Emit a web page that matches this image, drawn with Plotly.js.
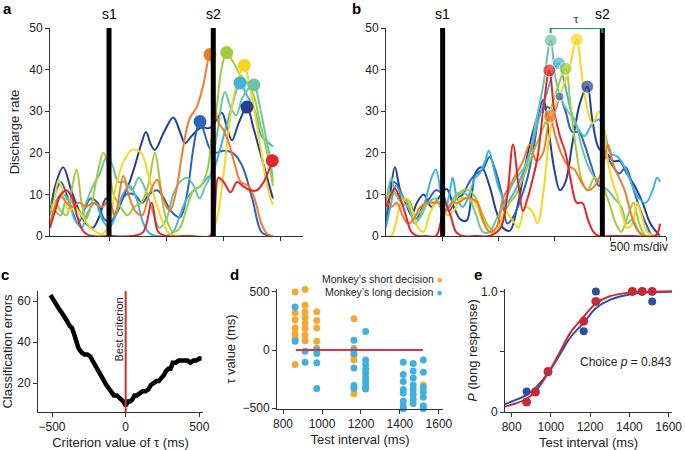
<!DOCTYPE html>
<html>
<head>
<meta charset="utf-8">
<script src="https://cdn.plot.ly/plotly-3.0.1.min.js"></script>
<style>
  body { margin: 0; background: white; }
  #myDiv { width: 685px; height: 450px; }
</style>
</head>
<body>
<div id="myDiv"></div>
<script>
// ---- panel a : discharge rate, short test interval (ms from s1) ----
var aNavyT = [-515,-470,-400,-330,-260,-200,-140,-80,-26,20,52,120,180,227,280,323,365,401,480,561,620,663,720,800,880,940,986,1030,1073,1130,1204,1260,1320,1380,1430];
var aNavyY = [5,12,16.5,11,6,3,2,5,9,7,5,9,13,17,22,25,22,20.7,25,28.5,25,22.3,24,26,26,28,29.6,26,23,27,31,26,20,14,9];
var aBlueT = [-515,-460,-420,-370,-320,-270,-220,-160,-100,-40,20,80,150,220,290,350,420,480,540,620,680,730,770,794,830,880,925,1000,1080,1160,1250,1330,1400,1430];
var aBlueY = [7,11,13,10,6,3,6,9,8,4,3.5,7,10,10,8,10,11,9,6,4.5,10,20,26,27.5,25,21,20,20.5,20,17,9,1,0,0];
var aCyanT = [-515,-470,-420,-360,-300,-240,-180,-120,-60,0,60,120,180,240,300,360,420,500,560,620,680,740,800,860,900,960,1020,1080,1143,1200,1274,1330,1390,1430];
var aCyanY = [5,8,10,9,4,2,6,8,4,2,5,10,12,9,3,0.5,0,0,1,5,9,11,12,14,15,20,26,32,36.8,34,30,24,22.5,21.5];
var aTealT = [-515,-470,-420,-370,-320,-260,-200,-140,-80,-20,30,80,140,200,260,320,380,440,500,560,620,680,740,790,840,880,940,1012,1060,1110,1160,1220,1265,1310,1360,1410,1430];
var aTealY = [8,6,5,9,8,4,8,12,15,19,17,13,13,11,14,11,6,2,4,10,13,14,12,9,12,14,24,34.6,31,29,33,35.5,36.3,32,25,18,13];
var aGreenT = [-515,-470,-420,-370,-320,-282,-240,-200,-150,-100,-49,0,40,100,160,220,280,340,401,440,490,560,620,680,740,800,860,900,940,980,1027,1080,1140,1200,1260,1320,1380,1430];
var aGreenY = [6,8,6,5,12,16,8,4,8,15,20,16,10,7,5,7,8,12,20,14,5,1,2,7,11,12,16,25,31,40,44.1,42,39,37,34,27,20,12];
var aYellowT = [-515,-480,-440,-400,-350,-300,-240,-160,-60,0,60,130,200,280,340,400,460,530,620,760,880,940,1000,1050,1100,1150,1181,1220,1270,1330,1380,1430];
var aYellowY = [2,8,13.5,10,6,7,5,2,0.5,3,12,18,20.7,20,15,9,4,0.5,0,0,0,4,15,27,35,39.5,41,37,30,20,12,7.5];
var aOrangeT = [-515,-470,-420,-370,-320,-260,-200,-140,-60,0,50,125,170,230,290,350,420,470,530,580,640,700,765,820,881,920,960,1000,1050,1100,1150,1220,1270,1330,1380,1430];
var aOrangeY = [3,7,9.5,8,7,8,7,8,7,8.5,5,14.5,10,6,5,10,13.5,9,6,10,20,28,31,36,43.6,32,27,25.5,22,17,13,12,9,3,0.5,0];
var aRedT = [-515,-470,-420,-369,-320,-270,-220,-150,0,200,300,372,430,500,700,880,920,955,1000,1060,1117,1170,1230,1290,1350,1425];
var aRedY = [2,6,10,11,9,4,1,0,0,0,1,8,1,0,0,0,5,14,13,10.5,13,12,11,11,13,18.1];
var aPeakT = [1204, 794, 1143, 1265, 1027, 1181, 881, 1425];
var aPeakY = [31, 27.5, 36.8, 36.3, 44.1, 41, 43.6, 18.1];
var aS2 = 910;

// ---- panel b : long test interval ----
var bNavyT = [-507,-470,-427,-380,-330,-280,-230,-170,-100,-40,36,100,160,215,260,300,350,420,480,540,603,660,720,780,840,901,950,1000,1050,1100,1160,1230,1295,1340,1400,1470,1530,1588,1650,1720,1790,1860,1946];
var bNavyY = [3,10,16.5,11,8,5,8,10,7,9,11.3,7,4,3.7,10,15.5,16.5,12,6,2,1.3,6,14,22,28,32.7,25,16,11,13,22,32,35.9,28,21,19.8,18,18,15,12,8,3,0];
var bBlueT = [-507,-460,-410,-360,-300,-240,-180,-120,-60,0,60,120,180,240,300,360,420,470,530,580,640,700,760,820,880,940,1000,1047,1100,1160,1220,1270,1330,1400,1460,1520,1580,1640,1700,1760,1820,1880,1946];
var bBlueY = [4,13,12.5,9,8.5,4,7,9,11,10,6,9,10,13,15,16,19,16,10,3,5,9,14,22,30,31,30,33.5,30,25,25,22,17,12,19,17,15,16.5,12,7,3,0,0];
var bCyanT = [-507,-460,-420,-370,-320,-270,-220,-160,-100,-60,-20,20,60,90,130,180,240,290,330,380,415,460,510,570,630,700,760,820,880,940,1000,1042,1090,1150,1210,1270,1340,1400,1450,1500,1570,1640,1700,1760,1820,1880,1920,1946];
var bCyanY = [2,8,12,10,8,5,4,8,14,16,11,6,10,14,9,7,10,14,15,18,20.5,16,11,8,10,14,18,24,30,35,40,41.5,37,30,26,24,27,28,25,20,19,16,12,9,8,11,14,13];
var bTealT = [-507,-460,-420,-370,-310,-250,-190,-130,-60,0,60,120,180,240,300,360,420,480,540,600,660,720,780,840,900,967,1010,1060,1120,1180,1240,1300,1360,1430,1480,1540,1600,1650,1700,1760,1820,1946];
var bTealY = [6,14,10,8,7,3,5,8,9,6,7,10,10.5,9,5,1,1,4,7,11,14,16,20,28,36,47,38,33,30,28,22,17,14,12,11,9,7,3,4,1,0,0];
var bGreenT = [-507,-460,-410,-360,-310,-250,-190,-130,-60,0,60,120,180,240,300,360,420,480,540,600,660,720,780,840,900,961,1010,1060,1101,1150,1200,1250,1300,1360,1430,1490,1550,1600,1660,1710,1760,1820,1946];
var bGreenY = [8,10.5,10,9,8,5,6,8,8,8,7,9,11,11,9,5,2,1,5,8,10,14,18,22,26,30,34,38,40.2,30,20,13,11,14,12,8,3,1,5,8,3,0,0];
var bYellowT = [-507,-460,-420,-370,-320,-270,-220,-170,-120,-60,-10,40,100,160,230,290,350,420,490,560,620,680,740,800,850,900,961,1020,1080,1140,1200,1250,1300,1340,1400,1440,1480,1520,1560,1610,1650,1700,1740,1780,1830,1900,1946];
var bYellowY = [0,0,3,8,9,6,2,1,5,8,8,5,6,9,9,8,4,1,1,6,4,2,7,6,3,10,25,32,36,41,47.2,38,30,27,30,27,18,13,10,5,2,3,8,5,1,0,0];
var bOrangeT = [-507,-460,-410,-360,-310,-260,-200,-140,-80,-30,30,80,140,200,260,310,360,420,480,540,600,660,720,780,840,900,961,1010,1060,1120,1180,1240,1300,1360,1430,1480,1530,1580,1630,1680,1730,1800,1946];
var bOrangeY = [9,7,8,5,3,4,7,8,8,8,6,8,8,9,9,8,4,1,2,9,12,15,18,22,18,20,28.8,24,20,17,16,13,11,12,16,22,17,14,11,6,2,0,0];
var bRedT = [-507,-460,-430,-380,-330,-280,-220,-150,-60,-20,20,70,120,180,300,420,520,580,630,680,720,760,800,850,900,955,1000,1050,1100,1150,1200,1250,1300,1350,1400,1500,1700,1900,1930,1946];
var bRedY = [7,10,11.5,9,5,1,0,0,0,3,8,5,1,0,0,0,2,10,22,12,6,9,13,19,30,39.8,30,24,20,13,8,8,4,1,0,0,0,0,1,3];
var bPeakT = [1295, 1047, 1042, 967, 1101, 1200, 961, 955];
var bPeakY = [35.9, 33.5, 41.5, 47, 40.2, 47.2, 28.8, 39.8];
var bS2 = 1430;
var tauStart = 967;

var s1 = 0;
var curveColors = ['#233f93', '#2f62b8', '#3db3e0', '#6cc4a5', '#a2cb3c', '#f3d81e', '#ef7b2b', '#e2262b'];
var bPeakSizes = [13, 9, 13, 13, 13, 13, 13, 13];

// ---- panel c : classification errors vs criterion ----
var cX = [-510,-495,-480,-465,-450,-430,-410,-395,-380,-365,-350,-335,-320,-300,-280,-260,-240,-225,-210,-195,-180,-165,-150,-130,-110,-95,-80,-60,-45,-30,-15,0,15,30,45,60,75,95,115,135,155,170,190,210,225,240,260,275,290,305,320,340,360,380,400,420,440,460,480,500,515];
var cY = [63,61,59,57,56,54,52,50,48,47,44,41,37,35,34,34,33,31,29,28,26,24,21,19,17,15,14,14,13,12,11,9,11,11,12,14,14,15,16,16,17,19,20,21,21,22,24,26,27,27,30,30,31,31,31,31,30,31,31,32,32];
var bestCriterion = 0;

// ---- panel d : tau value per trial ----
var dShortX = [862,862,862,862,862,862,862, 913,913,913,913,913,913,913,913, 973,973,973,973,973, 1164,1164,1164,1164,1164, 1520];
var dShortY = [500,320,260,190,140,100,-125, 520,385,330,280,230,185,130,80, 330,255,190,75,15, 270,15,-45,-85,-375, -300];
var dLongX = [862,862, 913,913, 973,973,973,973, 1164,1164,1164,1164,1164,1164, 1224,1224,1224,1224,1224,1224,1224,1224,1224, 1417,1417,1417,1417,1417,1417,1417,1417, 1468,1468,1468,1468,1468,1468,1468,1468, 1520,1520,1520,1520,1520,1520,1520];
var dLongY = [370,75, -10,-105, 0,-30,-110,-330, 85,0,-30,-155,-305,-330, 160,-85,-125,-165,-200,-240,-275,-310,-335, -105,-210,-270,-340,-370,-440,-480,-505, -115,-180,-240,-300,-340,-380,-420,-460, -85,-190,-320,-360,-405,-480,-505];
var dRefX = [866, 1518];
var dRefY = [0, 0];

// ---- panel e : psychometric curves ----
var eX = [876, 921, 985, 1167, 1229, 1415, 1465, 1516];
var eNeural = [0.17, 0.17, 0.33, 0.67, 1.0, 1.0, 1.0, 0.917];
var eChoice = [0.083, 0.165, 0.336, 0.752, 0.917, 1.0, 1.0, 1.0];
var eFitX = [766, 820, 876, 921, 985, 1050, 1100, 1167, 1229, 1300, 1400, 1500, 1617];
var eFitNeural = [0.065, 0.1, 0.14, 0.2, 0.32, 0.49, 0.62, 0.74, 0.86, 0.93, 0.975, 0.993, 1.0];
var eFitChoice = [0.045, 0.07, 0.11, 0.17, 0.32, 0.51, 0.66, 0.79, 0.9, 0.96, 0.99, 0.998, 1.0];

var W = 685, H = 450;
function px(x) { return x / W; }
function py(y) { return 1 - y / H; }

var FONT = 'Liberation Sans, Arial, Helvetica, sans-serif';
var AX = '#333';

var data = [];
var aT = [aNavyT, aBlueT, aCyanT, aTealT, aGreenT, aYellowT, aOrangeT, aRedT];
var aY = [aNavyY, aBlueY, aCyanY, aTealY, aGreenY, aYellowY, aOrangeY, aRedY];
var bT = [bNavyT, bBlueT, bCyanT, bTealT, bGreenT, bYellowT, bOrangeT, bRedT];
var bY = [bNavyY, bBlueY, bCyanY, bTealY, bGreenY, bYellowY, bOrangeY, bRedY];

for (var i = 0; i < aT.length; i++) {
  data.push({x: aT[i], y: aY[i], xaxis: 'x', yaxis: 'y', type: 'scatter', mode: 'lines',
    line: {color: curveColors[i], width: 2, shape: 'spline', smoothing: 1}, hoverinfo: 'skip'});
}
data.push({x: aPeakT, y: aPeakY, xaxis: 'x', yaxis: 'y', type: 'scatter', mode: 'markers',
  marker: {color: curveColors, size: 13}, cliponaxis: false});

for (var j = 0; j < bT.length; j++) {
  data.push({x: bT[j], y: bY[j], xaxis: 'x2', yaxis: 'y2', type: 'scatter', mode: 'lines',
    line: {color: curveColors[j], width: 2, shape: 'spline', smoothing: 1}, hoverinfo: 'skip'});
}
data.push({x: bPeakT, y: bPeakY, xaxis: 'x2', yaxis: 'y2', type: 'scatter', mode: 'markers',
  marker: {color: curveColors, size: bPeakSizes}, cliponaxis: false});

// c
data.push({x: cX, y: cY, xaxis: 'x3', yaxis: 'y3', type: 'scatter', mode: 'lines',
  line: {color: 'black', width: 4.5}});

// d
data.push({x: dShortX, y: dShortY, xaxis: 'x4', yaxis: 'y4', type: 'scatter', mode: 'markers',
  marker: {color: '#f3a833', size: 7}, cliponaxis: false});
data.push({x: dLongX, y: dLongY, xaxis: 'x4', yaxis: 'y4', type: 'scatter', mode: 'markers',
  marker: {color: '#3fb0df', size: 7}, cliponaxis: false});
data.push({x: dRefX, y: dRefY, xaxis: 'x4', yaxis: 'y4', type: 'scatter', mode: 'lines',
  line: {color: '#d8383a', width: 2}});

// e
data.push({x: eFitX, y: eFitNeural, xaxis: 'x5', yaxis: 'y5', type: 'scatter', mode: 'lines',
  line: {color: '#2c4ea3', width: 2, shape: 'spline'}});
data.push({x: eFitX, y: eFitChoice, xaxis: 'x5', yaxis: 'y5', type: 'scatter', mode: 'lines',
  line: {color: '#c52a38', width: 2, shape: 'spline'}});
data.push({x: eX, y: eNeural, xaxis: 'x5', yaxis: 'y5', type: 'scatter', mode: 'markers',
  marker: {color: '#2c4ea3', size: 8}, cliponaxis: false});
data.push({x: eX, y: eChoice, xaxis: 'x5', yaxis: 'y5', type: 'scatter', mode: 'markers',
  marker: {color: '#c52a38', size: 9}, cliponaxis: false});

function axis(extra) {
  var base = {showline: true, linecolor: AX, linewidth: 1, ticks: 'outside', ticklen: 4,
    tickcolor: AX, showgrid: false, zeroline: false, fixedrange: true, ticklabeloverflow: 'allow',
    tickfont: {size: 12, color: '#222', family: FONT}};
  for (var k in extra) base[k] = extra[k];
  return base;
}
function ttl(t, s) { return {text: t, font: {size: 13, color: '#222', family: FONT}, standoff: s}; }

// text placed in page pixels
function note(text, x, y, size, opts) {
  var a = {text: text, xref: 'paper', yref: 'paper', x: px(x), y: py(y), xanchor: 'center', yanchor: 'middle',
    showarrow: false, font: {size: size, color: '#222'}};
  for (var k in opts) a[k] = opts[k];
  return a;
}

var layout = {
  width: W, height: H,
  margin: {l: 0, r: 0, t: 0, b: 0},
  showlegend: false,
  paper_bgcolor: 'white', plot_bgcolor: 'white',
  font: {family: FONT, color: '#222'},
  xaxis: axis({domain: [px(50), px(303)], range: [-515, 1693], tickvals: [0, 500, 1000, 1500],
    showticklabels: false, anchor: 'y'}),
  yaxis: axis({domain: [py(236), py(28)], range: [0, 50], tickvals: [0, 10, 20, 30, 40, 50],
    anchor: 'x', title: ttl('Discharge rate', 6)}),
  xaxis2: axis({domain: [px(386), px(666)], range: [-507, 2000], tickvals: [0, 500, 1000, 1500, 2000],
    showticklabels: false, anchor: 'y2'}),
  yaxis2: axis({domain: [py(236), py(28)], range: [0, 50], tickvals: [0, 10, 20, 30, 40, 50], anchor: 'x2'}),
  xaxis3: axis({domain: [px(38), px(203)], range: [-595, 525], tickvals: [-500, 0, 500],
    ticktext: ['\u2212500', '0', '500'], anchor: 'y3', title: ttl('Criterion value of \u03c4 (ms)', 4)}),
  yaxis3: axis({domain: [py(412), py(291)], range: [5.9, 65], tickvals: [20, 40, 60], anchor: 'x3',
    title: ttl('Classification errors', 6)}),
  xaxis4: axis({domain: [px(277), px(443)], range: [769, 1621], tickvals: [800, 1000, 1200, 1400, 1600],
    anchor: 'y4', title: ttl('Test interval (ms)', 4)}),
  yaxis4: axis({domain: [py(409), py(289)], range: [-507, 525], tickvals: [-500, 0, 500],
    ticktext: ['\u2212500', '0', '500'], anchor: 'x4', title: ttl('\u03c4 value (ms)', 4)}),
  xaxis5: axis({domain: [px(505), px(672)], range: [766, 1617], tickvals: [800, 1000, 1200, 1400, 1600],
    anchor: 'y5', title: ttl('Test interval (ms)', 4)}),
  yaxis5: axis({domain: [py(412), py(289)], range: [0, 1.02], tickvals: [0, 0.5, 1.0],
    ticktext: ['0', '', '1.0'], anchor: 'x5', title: ttl('<i>P</i> (long response)', 0)}),
  shapes: [
    {type: 'line', xref: 'x', yref: 'y', x0: s1, x1: s1, y0: 0, y1: 50, line: {color: 'black', width: 5}},
    {type: 'line', xref: 'x', yref: 'y', x0: aS2, x1: aS2, y0: 0, y1: 50, line: {color: 'black', width: 5}},
    {type: 'line', xref: 'x2', yref: 'y2', x0: s1, x1: s1, y0: 0, y1: 50, line: {color: 'black', width: 5}},
    {type: 'line', xref: 'x2', yref: 'y2', x0: bS2, x1: bS2, y0: 0, y1: 50, line: {color: 'black', width: 5}},
    {type: 'line', xref: 'x2', yref: 'y2', x0: tauStart, x1: bS2, y0: 50, y1: 50, line: {color: '#1f9f5f', width: 2}},
    {type: 'line', xref: 'x2', yref: 'y2', x0: tauStart, x1: tauStart, y0: 48.8, y1: 50.6, line: {color: '#1f9f5f', width: 2}},
    {type: 'line', xref: 'x2', yref: 'y2', x0: bS2, x1: bS2, y0: 48.8, y1: 50.6, line: {color: '#1f9f5f', width: 2}},
    {type: 'line', xref: 'x3', yref: 'y3 domain', x0: bestCriterion, x1: bestCriterion, y0: 0, y1: 1,
      line: {color: '#d0302f', width: 2}}
  ],
  annotations: [
    note('<b>a</b>', 7, 8, 15, {font: {size: 15, color: 'black'}}),
    note('<b>b</b>', 356, 8, 15, {font: {size: 15, color: 'black'}}),
    note('<b>c</b>', 5, 274, 15, {font: {size: 15, color: 'black'}}),
    note('<b>d</b>', 234, 274, 15, {font: {size: 15, color: 'black'}}),
    note('<b>e</b>', 478, 274, 15, {font: {size: 15, color: 'black'}}),
    {text: 's1', xref: 'x', yref: 'paper', x: s1, y: py(14), xanchor: 'center', yanchor: 'middle',
      showarrow: false, font: {size: 14, color: 'black'}},
    {text: 's2', xref: 'x', yref: 'paper', x: aS2, y: py(14), xanchor: 'center', yanchor: 'middle',
      showarrow: false, font: {size: 14, color: 'black'}},
    {text: 's1', xref: 'x2', yref: 'paper', x: s1, y: py(14), xanchor: 'center', yanchor: 'middle',
      showarrow: false, font: {size: 14, color: 'black'}},
    {text: 's2', xref: 'x2', yref: 'paper', x: bS2, y: py(14), xanchor: 'center', yanchor: 'middle',
      showarrow: false, font: {size: 14, color: 'black'}},
    {text: '\u03c4', xref: 'x2', yref: 'paper', x: (tauStart + bS2) / 2, y: py(20), xanchor: 'center', yanchor: 'middle',
      showarrow: false, font: {size: 11, color: '#222', family: 'DejaVu Serif, serif'}},
    note('500 ms/div', 670, 247, 12, {xanchor: 'right'}),
    {text: 'Best criterion', xref: 'x3', yref: 'y3', x: -48, y: 46, textangle: -90, xanchor: 'center', yanchor: 'middle',
      showarrow: false, font: {size: 11, color: '#222'}},
    note('Monkey\u2019s short decision <span style="color:#f3a833">\u25cf</span>', 445, 279, 10.5, {xanchor: 'right'}),
    note('Monkey\u2019s long decision <span style="color:#3fb0df">\u25cf</span>', 445, 292, 10.5, {xanchor: 'right'}),
    note('Choice <i>p</i> = 0.843', 625, 362, 12)
  ]
};

Plotly.newPlot('myDiv', data, layout, {displayModeBar: false, staticPlot: true});
</script>
</body>
</html>
